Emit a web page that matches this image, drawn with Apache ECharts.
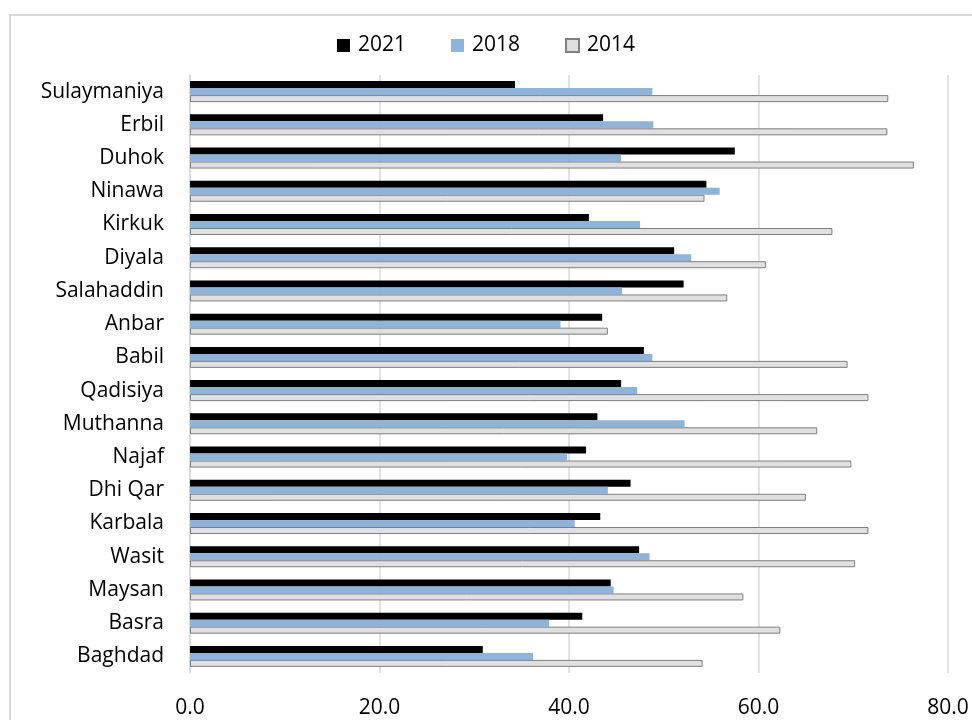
<!DOCTYPE html>
<html>
<head>
<meta charset="utf-8">
<script src="https://cdn.jsdelivr.net/npm/echarts@6/dist/echarts.min.js"></script>
<style>
html,body{margin:0;padding:0;background:#fff;}
#c{width:972px;height:720px;}
</style>
</head>
<body>
<div id="c"></div>
<script>
const categories = ["Sulaymaniya","Erbil","Duhok","Ninawa","Kirkuk","Diyala","Salahaddin","Anbar","Babil","Qadisiya","Muthanna","Najaf","Dhi Qar","Karbala","Wasit","Maysan","Basra","Baghdad"];
const values2021 = [34.3,43.6,57.5,54.5,42.1,51.1,52.1,43.5,47.9,45.5,43.0,41.8,46.5,43.3,47.4,44.4,41.4,30.9];
const values2018 = [48.8,48.9,45.5,55.9,47.5,52.9,45.6,39.1,48.8,47.2,52.2,39.8,44.1,40.6,48.5,44.7,37.9,36.2];
const values2014 = [73.7,73.6,76.4,54.3,67.8,60.8,56.7,44.1,69.4,71.6,66.2,69.8,65.0,71.6,70.2,58.4,62.3,54.1];
const seriesNames = ["2021","2018","2014"];
const xTicks = [0,20,40,60,80];

const font = "Open Sans";
const chart = echarts.init(document.getElementById('c'), null, {renderer:'canvas'});
chart.setOption({
  animation:false,
  backgroundColor:'#fff',
  graphic:[{type:'rect',shape:{x:10,y:15,width:1000,height:1000},style:{fill:'none',stroke:'#d9d9d9',lineWidth:2},silent:true}],
  legend:{
    data:seriesNames,
    left:'center', top:30,
    icon:'rect',
    itemWidth:13, itemHeight:13, itemGap:45,
    textStyle:{fontFamily:font,fontSize:21,color:'#000',padding:[0,0,0,3]}
  },
  grid:{left:190,right:24,top:75,bottom:47,containLabel:false},
  xAxis:{
    type:'value', min:xTicks[0], max:xTicks[xTicks.length-1], interval:20,
    axisLine:{show:false}, axisTick:{show:false},
    axisLabel:{formatter:v=>v.toFixed(1),fontFamily:font,fontSize:21,color:'#000',margin:25},
    splitLine:{show:true,lineStyle:{color:'#d9d9d9',width:1.5}}
  },
  yAxis:{
    type:'category', data:categories, inverse:true,
    axisLine:{show:true,lineStyle:{color:'#d9d9d9',width:1.5}}, axisTick:{show:false},
    axisLabel:{fontFamily:font,fontSize:21,color:'#000',margin:26}
  },
  series:[
    {name:seriesNames[0],type:'bar',data:values2021,barWidth:7,barGap:'0%',itemStyle:{color:'#000'}},
    {name:seriesNames[1],type:'bar',data:values2018,barWidth:7,barGap:'0%',itemStyle:{color:'#8db4da'}},
    {name:seriesNames[2],type:'bar',data:values2014,barWidth:7,barGap:'0%',itemStyle:{color:'#e0e0e0',borderColor:'#7f7f7f',borderWidth:1}}
  ]
});
</script>
</body>
</html>
